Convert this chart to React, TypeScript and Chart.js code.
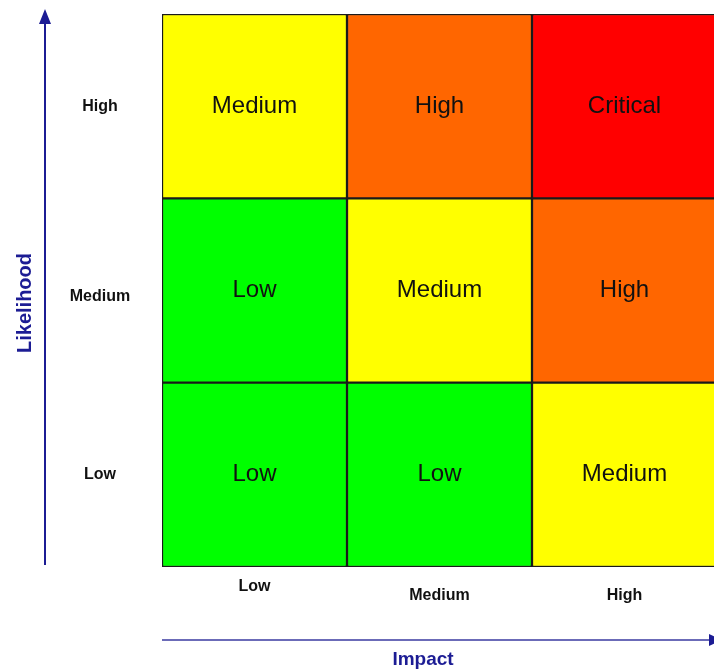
import React, { useEffect, useRef } from "react";
import { Chart, registerables } from "chart.js";

Chart.register(...registerables);

const impactLabels = ["Low", "Medium", "High"];
const likelihoodLabels = ["Low", "Medium", "High"];
// rows bottom (Low likelihood) to top (High likelihood), columns by impact
const rowLow = ["Low", "Low", "Medium"];
const rowMedium = ["Low", "Medium", "High"];
const rowHigh = ["Medium", "High", "Critical"];
const cellValues = [1, 1, 1];
const xTitle = "Impact";
const yTitle = "Likelihood";

const levelColors: Record<string, string> = {
  Low: "#00ff00",
  Medium: "#ffff00",
  High: "#ff6600",
  Critical: "#ff0000",
};

const AXIS_BLUE = "#1c1c94";

const matrixPlugin = {
  id: "matrixPlugin",
  afterDatasetsDraw(chart: any) {
    const ctx = chart.ctx;
    ctx.save();
    // cell labels
    chart.data.datasets.forEach((ds: any, di: number) => {
      const meta = chart.getDatasetMeta(di);
      meta.data.forEach((el: any, i: number) => {
        const cx = el.x;
        const cy = (el.y + el.base) / 2;
        ctx.fillStyle = "#111";
        ctx.font = "24px 'Liberation Sans', Arial, sans-serif";
        ctx.textAlign = "center";
        ctx.textBaseline = "middle";
        ctx.fillText(ds.cellText[i], cx, cy);
      });
    });
    const xs = chart.scales.x;
    const ys = chart.scales.y;
    // tick labels
    ctx.font = "bold 16px 'Liberation Sans', Arial, sans-serif";
    ctx.fillStyle = "#111";
    ctx.textAlign = "center";
    ctx.textBaseline = "middle";
    likelihoodLabels.forEach((lab, i) => {
      const y = ys.getPixelForValue(i + 0.5);
      ctx.fillText(lab, 100, y + (i === 1 ? 6 : 0));
    });
    impactLabels.forEach((lab, i) => {
      const x = xs.getPixelForValue(i);
      ctx.fillText(lab, x, i === 0 ? 587 : 596);
    });
    // y axis arrow
    ctx.strokeStyle = AXIS_BLUE;
    ctx.fillStyle = AXIS_BLUE;
    ctx.lineWidth = 2;
    ctx.beginPath();
    ctx.moveTo(45, 565);
    ctx.lineTo(45, 20);
    ctx.stroke();
    ctx.beginPath();
    ctx.moveTo(45, 9);
    ctx.lineTo(39, 24);
    ctx.lineTo(51, 24);
    ctx.closePath();
    ctx.fill();
    // x axis arrow
    ctx.strokeStyle = "#3a3aa0";
    ctx.lineWidth = 1.5;
    ctx.beginPath();
    ctx.moveTo(162, 640);
    ctx.lineTo(710, 640);
    ctx.stroke();
    ctx.fillStyle = AXIS_BLUE;
    ctx.beginPath();
    ctx.moveTo(722, 640);
    ctx.lineTo(709, 634);
    ctx.lineTo(709, 646);
    ctx.closePath();
    ctx.fill();
    // titles
    ctx.fillStyle = AXIS_BLUE;
    ctx.font = "bold 19px 'Liberation Sans', Arial, sans-serif";
    ctx.textAlign = "center";
    ctx.textBaseline = "middle";
    ctx.fillText(xTitle, 423, 660);
    ctx.save();
    ctx.font = "bold 20px 'Liberation Sans', Arial, sans-serif";
    ctx.translate(25, 303);
    ctx.rotate(-Math.PI / 2);
    ctx.fillText(yTitle, 0, 0);
    ctx.restore();
    ctx.restore();
  },
};

export default function App() {
  const ref = useRef<HTMLCanvasElement | null>(null);
  useEffect(() => {
    if (!ref.current) return;
    const rows = [rowLow, rowMedium, rowHigh];
    const chart = new Chart(ref.current, {
      type: "bar",
      data: {
        labels: impactLabels,
        datasets: rows.map((row, i) => ({
          label: likelihoodLabels[i],
          data: cellValues,
          cellText: row,
          backgroundColor: row.map((r) => levelColors[r]),
          borderColor: "#1a1a1a",
          borderWidth: 1.5,
          borderSkipped: false,
          barPercentage: 1,
          categoryPercentage: 1,
        })) as any,
      },
      options: {
        animation: false,
        responsive: false,
        events: [],
        layout: { padding: { left: 162, right: 5, top: 14, bottom: 104 } },
        plugins: { legend: { display: false }, tooltip: { enabled: false } },
        scales: {
          x: { display: false, stacked: true },
          y: { display: false, stacked: true, min: 0, max: 3 },
        },
      },
      plugins: [matrixPlugin],
    });
    return () => chart.destroy();
  }, []);
  return (
    <div
      style={{
        position: "fixed",
        left: 0,
        top: 0,
        width: 714,
        height: 671,
        overflow: "hidden",
        background: "#fff",
      }}
    >
      <canvas ref={ref} width={722} height={671} style={{ display: "block" }} />
    </div>
  );
}
